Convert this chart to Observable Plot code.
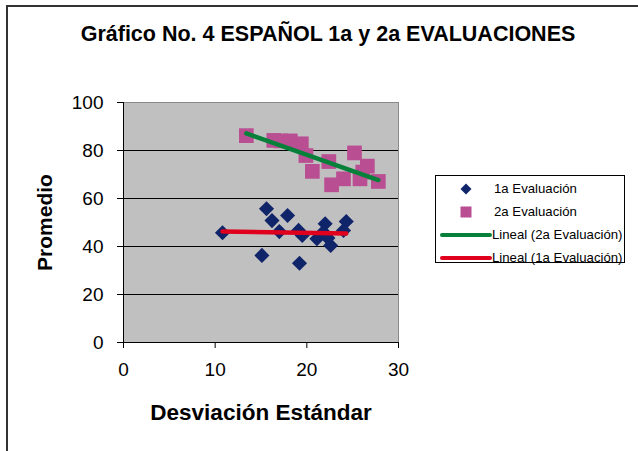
<!DOCTYPE html>
<html>
<head>
<meta charset="utf-8">
<script src="https://cdn.jsdelivr.net/npm/d3@7"></script>
<script src="https://cdn.jsdelivr.net/npm/@observablehq/plot@0.6"></script>
<style>
  body { margin: 0; background: #fff; }
  #wrap { position: relative; width: 638px; height: 451px; overflow: hidden; font-family: "Liberation Sans", Arial, sans-serif; }
  #border { position: absolute; left: 6px; top: 5px; width: 700px; height: 500px; border-top: 2px solid #333; border-left: 2px solid #333; }
  #title { position: absolute; left: 0; width: 656px; top: 22px; text-align: center; font-weight: bold; font-size: 21.5px; color: #000; white-space: nowrap; }
  #chart { position: absolute; left: 0; top: 0; }
  #legend { position: absolute; left: 435px; top: 175px; width: 188px; height: 86px; border: 1px solid #000; background: #fff; font-size: 13.2px; }
  .row { position: absolute; left: 0; height: 22px; display: flex; align-items: center; white-space: nowrap; }
  .row svg { display: block; flex: none; }
  g[aria-label="y-axis label"] text { font-weight: bold; font-size: 21px; }
  g[aria-label="x-axis label"] text { font-weight: bold; font-size: 22.5px; }
</style>
</head>
<body>
<div id="wrap">
  <div id="border"></div>
  <div id="chart"></div>
  <div id="title">Gráfico No. 4 ESPAÑOL 1a y 2a EVALUACIONES</div>
  <div id="legend"></div>
</div>
<script>
const eval1X = [10.8, 15.6, 16.2, 17.9, 17.0, 15.1, 19.1, 19.5, 19.2, 21.1, 22.0, 21.8, 22.6, 22.3, 24.3, 24.0];
const eval1Y = [45.7, 55.7, 50.8, 52.9, 46.2, 36.3, 46.7, 44.6, 33.0, 43.2, 49.5, 46.0, 40.4, 43.5, 50.4, 46.7];
const eval2X = [13.4, 16.4, 17.2, 18.2, 19.4, 19.9, 20.6, 22.4, 25.2, 22.7, 24.0, 25.8, 26.6, 26.1, 27.8];
const eval2Y = [86.2, 84.2, 84.0, 84.0, 82.8, 77.9, 71.3, 75.4, 79.0, 65.7, 68.2, 68.2, 73.5, 71.0, 67.1];
const xTicks = [0, 10, 20, 30];
const yTicks = [0, 20, 40, 60, 80, 100];
const gridY = [20, 40, 60, 80];
const seriesNames = ["1a Evaluación", "2a Evaluación", "Lineal (2a Evaluación)", "Lineal (1a Evaluación)"];

const C1 = "#0f2469", C2 = "#b94f92", CG = "#07803a", CR = "#e0001e";

const d1 = eval1X.map((x, i) => ({x, y: eval1Y[i]}));
const d2 = eval2X.map((x, i) => ({x, y: eval2Y[i]}));

const chart = Plot.plot({
  width: 638,
  height: 451,
  marginLeft: 123,
  marginRight: 240,
  marginTop: 102,
  marginBottom: 109,
  style: {fontFamily: "'Liberation Sans', Arial, sans-serif", background: "transparent", color: "#000"},
  x: {domain: [0, 30]},
  y: {domain: [0, 100]},
  marks: [
    Plot.frame({fill: "#c0c0c0", stroke: "#8a8a8a"}),
    Plot.ruleY(gridY, {stroke: "#000", strokeWidth: 1}),
    Plot.axisY({ticks: yTicks, tickSize: 6, tickPadding: 14, fontSize: 19, label: "Promedio", labelArrow: "none", labelAnchor: "center", labelOffset: 86}),
    Plot.axisX({ticks: xTicks, tickSize: 6, tickPadding: 14, fontSize: 19, label: "Desviación Estándar", labelArrow: "none", labelAnchor: "center", labelOffset: 77}),
    Plot.ruleY([0], {stroke: "#000"}),
    Plot.ruleX([0], {stroke: "#000"}),
    Plot.dot(d1, {x: "x", y: "y", symbol: "diamond2", fill: C1, r: 6.8}),
    Plot.dot(d2, {x: "x", y: "y", symbol: "square", fill: C2, r: 8.3}),
    Plot.linearRegressionY(d2, {x: "x", y: "y", stroke: CG, strokeWidth: 4.5, ci: 0, strokeLinecap: "round"}),
    Plot.linearRegressionY(d1, {x: "x", y: "y", stroke: CR, strokeWidth: 4.5, ci: 0, strokeLinecap: "round"})
  ]
});
document.getElementById("chart").appendChild(chart);

// legend
const legend = document.getElementById("legend");
const swatches = [
  `<svg width="56" height="22"><path d="M30,5.5 L35.5,11 L30,16.5 L24.5,11 Z" fill="${C1}"/></svg>`,
  `<svg width="56" height="22"><rect x="24.5" y="5.5" width="11" height="11" fill="${C2}"/></svg>`,
  `<svg width="56" height="22"><line x1="6" y1="11" x2="54" y2="11" stroke="${CG}" stroke-width="4" stroke-linecap="round"/></svg>`,
  `<svg width="56" height="22"><line x1="6" y1="11" x2="54" y2="11" stroke="${CR}" stroke-width="4" stroke-linecap="round"/></svg>`
];
seriesNames.forEach((name, i) => {
  const row = document.createElement("div");
  row.className = "row";
  row.style.top = (1.7 + i * 23) + "px";
  row.innerHTML = swatches[i] + `<span style="margin-left:${i < 2 ? 2 : 0}px">${name}</span>`;
  legend.appendChild(row);
});
</script>
</body>
</html>
